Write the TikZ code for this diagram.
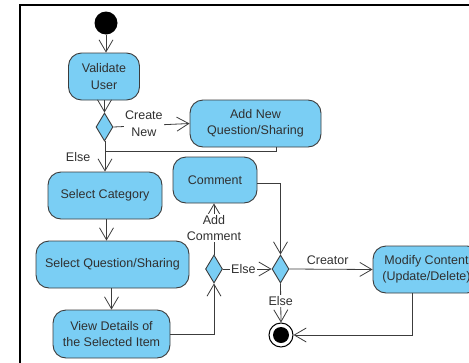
\documentclass[tikz,border=0pt]{standalone}
\usepackage{fontspec}
\setmainfont{Liberation Sans}
\usetikzlibrary{arrows.meta,shapes.geometric}

\definecolor{actfill}{HTML}{7ACEF4}
\definecolor{edgec}{HTML}{3C3C3C}
\definecolor{txt}{HTML}{303030}

\tikzset{
  act/.style={draw=edgec, line width=0.9pt, fill=actfill, rounded corners=13pt,
    align=center, text=txt, inner sep=0pt,
    font=\fontsize{12.5}{16.5}\selectfont},
  dec/.style={diamond, draw=edgec, line width=0.9pt, fill=actfill,
    minimum width=17pt, minimum height=28pt, inner sep=0pt},
  lbl/.style={font=\fontsize{12.5}{16.5}\selectfont, text=txt, fill=white,
    inner sep=1.5pt, align=center},
  flow/.style={draw=edgec, line width=0.8pt,
    -{Straight Barb[length=12pt,width=14pt,line width=0.8pt]}},
  plain/.style={draw=edgec, line width=0.8pt},
}

\begin{document}
\begin{tikzpicture}[x=1pt,y=-1pt]
\useasboundingbox (0,0) rectangle (469,362);
\clip (0,0) rectangle (469,362);

% frame of the diagram
\draw[line width=2pt, black] (20,370) -- (20,5) -- (480,5);

% start and end
\node[circle, fill=black, minimum size=23pt, inner sep=0pt] (init) at (106,23) {};
\node[circle, draw=black, fill=white, line width=1pt, minimum size=24pt, inner sep=0pt] (final) at (281,335) {};
\fill[black] (final.center) circle (8pt);

% activities
\node[act, minimum width=71pt, minimum height=47pt] (val) at (104,76.5) {Validate\\User};
\node[act, minimum width=131pt, minimum height=47pt] (addnew) at (255.5,123.5) {Add New\\Question/Sharing};
\node[act, minimum width=114pt, minimum height=47pt] (selcat) at (105,195.5) {Select Category};
\node[act, minimum width=153pt, minimum height=47pt] (selq) at (112.5,264.5) {Select Question/Sharing};
\node[act, minimum width=117pt, minimum height=48pt] (view) at (111.5,334) {View Details of\\the Selected Item};
\node[act, minimum width=84pt, minimum height=46pt] (comment) at (215,180) {Comment};
\node[act, minimum width=107pt, minimum height=47pt] (modify) at (426.5,269.5) {Modify Content\\(Update/Delete)};

% decisions
\node[dec] (d1) at (104.5,127) {};
\node[dec] (d2) at (214,269) {};
\node[dec] (d3) at (280.5,269) {};

% junction where the new item flow rejoins
\coordinate (join) at (105,151);

% flows
\draw[flow] (init) -- (val.north -| init);
\draw[flow] (val.south -| d1) -- (d1.north);
\draw[flow] (d1.east) -- node[lbl, pos=0.4, yshift=2pt] {Create\\New} (addnew.west);
\draw[plain] ([xshift=20.5pt]addnew.south) |- (join);
\draw[flow] (d1.south -| join) -- (selcat.north -| join);
\node[lbl, fill=none, anchor=east] at (92,157) {Else};
\draw[flow] ([xshift=1.5pt]selcat.south) -- ([xshift=1.5pt]selcat.south |- selq.north);
\draw[flow] (selq.south -| view) -- (view.north);
\draw[flow] (view.east) -| (d2.south);
\draw[flow] (d2.north) -- node[lbl, pos=0.52] {Add\\Comment} (comment.south -| d2);
\draw[flow] (d2.east) -- node[lbl, pos=0.42] {Else} (d3.west);
\draw[flow] ([yshift=-3pt]comment.east) -| (d3.north);
\draw[flow] (d3.east) -- node[lbl, fill=none, pos=0.46, above=3pt] {Creator} (modify.west);
\draw[flow] (d3.south) -- node[lbl, pos=0.45] {Else} (final.north);
\draw[flow] ([xshift=-14pt]modify.south) |- (final.east);
\end{tikzpicture}
\end{document}
